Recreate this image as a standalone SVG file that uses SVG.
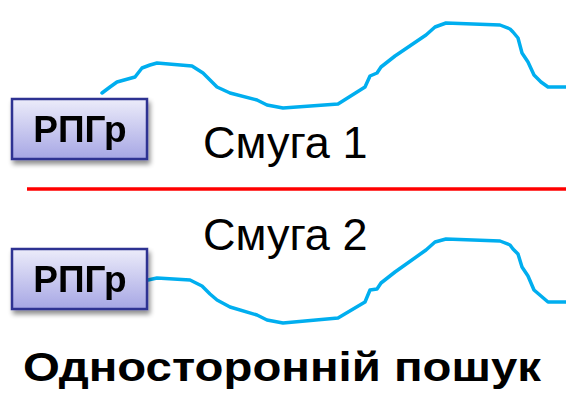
<svg xmlns="http://www.w3.org/2000/svg" width="566" height="393" viewBox="0 0 566 393">
<defs>
<linearGradient id="boxg" x1="0" y1="0" x2="0" y2="1">
<stop offset="0" stop-color="#ececfa"/>
<stop offset="1" stop-color="#a6a6e4"/>
</linearGradient>
<filter id="sh" x="-20%" y="-20%" width="150%" height="160%">
<feGaussianBlur in="SourceAlpha" stdDeviation="2.5"/>
<feOffset dx="2" dy="4" result="b"/>
<feComponentTransfer><feFuncA type="linear" slope="0.45"/></feComponentTransfer>
<feMerge><feMergeNode/><feMergeNode in="SourceGraphic"/></feMerge>
</filter>
</defs>
<style>
.box{fill:url(#boxg);stroke:#2e3192;stroke-width:2.5}
.bt{font-family:"Liberation Sans",Arial,sans-serif;font-weight:bold;font-size:37px;fill:#000;text-anchor:middle}
.lbl{font-family:"Liberation Sans",Arial,sans-serif;font-size:45px;fill:#000}
.title{font-family:"Liberation Sans",Arial,sans-serif;font-weight:bold;font-size:40px;fill:#000}
.curve{fill:none;stroke:#00aeef;stroke-width:3.5;stroke-linecap:round;stroke-linejoin:round}
</style>
<g id="connectors">
<path class="curve" d="M102,93 L110,87 L117,82 L135,77 L142,68 L150,65 L157,63 L192,66 L203,73 L210,80 L217,87 L230,93 L257,100 L267,105 L283,108 L338,104 L365,87 L370,76 L377,73 L381,67 L395,56 L426,35 L435,27 L446,23 L500,25 L510,29 L513,32 L518,38 L522,53 L528,62 L534,75 L541,82 L548,87 L566,87"/>
<path class="curve" d="M148,280 L157,278 L190,280 L202,286 L210,294 L217,300 L230,307 L257,315 L267,320 L283,323 L338,318 L365,302 L370,290 L377,289 L381,283 L395,272 L426,250 L435,242 L446,239 L500,241 L510,245 L513,249 L518,254 L522,267 L528,276 L534,290 L541,296 L548,302 L566,302"/>
<line x1="27" y1="189" x2="566" y2="189" stroke="#ff0000" stroke-width="3.5"/>
</g>
<g id="rpgr1" filter="url(#sh)">
<rect class="box" x="12" y="99" width="135" height="60"/>
<text class="bt" x="80" y="142">РПГр</text>
</g>
<g id="rpgr2" filter="url(#sh)">
<rect class="box" x="12" y="249" width="135" height="60"/>
<text class="bt" x="80" y="292">РПГр</text>
</g>
<g id="band1"><text class="lbl" x="203" y="158">Смуга 1</text></g>
<g id="band2"><text class="lbl" x="203" y="250">Смуга 2</text></g>
<g id="title"><text class="title" x="23" y="381" textLength="518" lengthAdjust="spacingAndGlyphs">Односторонній пошук</text></g>
</svg>
